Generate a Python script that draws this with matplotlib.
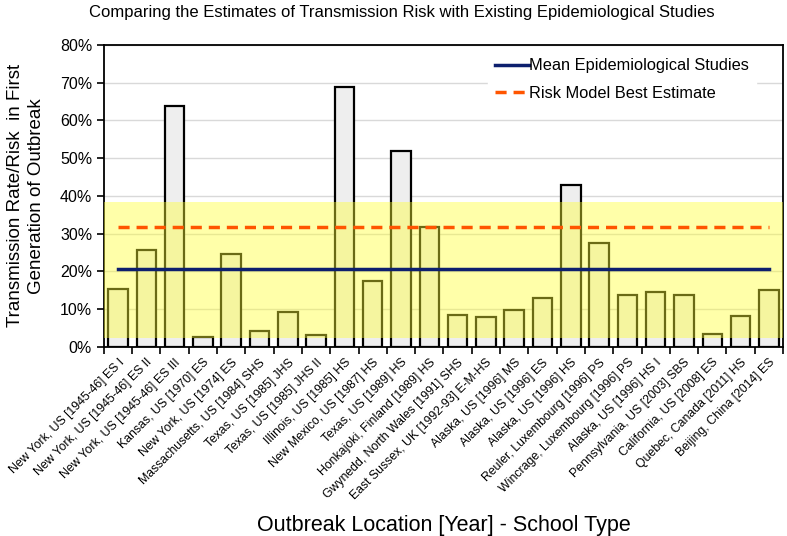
import numpy as np
import matplotlib
matplotlib.use("Agg")
import matplotlib.pyplot as plt
from matplotlib.ticker import PercentFormatter

plt.rcParams["font.family"] = ["Liberation Sans", "DejaVu Sans"]

# ---------------------------------------------------------------- data
labels = [
    "New York, US [1945-46] ES I",
    "New York, US [1945-46] ES II",
    "New York, US [1945-46] ES III",
    "Kansas, US [1970] ES",
    "New York, US [1974] ES",
    "Massachusetts, US [1984] SHS",
    "Texas, US [1985] JHS",
    "Texas, US [1985] JHS II",
    "Illinois, US [1985] HS",
    "New Mexico, US [1987] HS",
    "Texas, US [1989] HS",
    "Honkajoki, Finland [1989] HS",
    "Gwynedd, North Wales [1991] SHS",
    "East Sussex, UK [1992-93] E-M-HS",
    "Alaska, US [1996] MS",
    "Alaska, US [1996] ES",
    "Alaska, US [1996] HS",
    "Reuler, Luxembourg [1996] PS",
    "Wincrage, Luxembourg [1996] PS",
    "Alaska, US [1996] HS I",
    "Pennsylvania, US [2003] SBS",
    "California, US [2008] ES",
    "Quebec, Canada [2011] HS",
    "Beijing, China [2014] ES",
]
risk = [15.4, 25.7, 63.8, 2.5, 24.7, 4.2, 9.3, 3.2, 69.0, 17.5, 51.8, 31.7,
        8.5, 7.9, 9.8, 13.0, 42.9, 27.5, 13.7, 14.5, 13.8, 3.3, 8.1, 15.0]
mean_studies = 20.6        # mean of epidemiological studies (%)
model_best = 31.8          # risk model best estimate (%)
band_low, band_high = 2.3, 38.5   # risk model range (%)

# ---------------------------------------------------------------- figure
fig = plt.figure(figsize=(7.87, 5.36), dpi=100)
ax = fig.add_axes([0.132, 0.353, 0.863, 0.563])

x = np.arange(len(labels))
ax.bar(x, risk, width=0.69, color="#eeeeee", edgecolor="black", linewidth=1.6, zorder=2)
ax.axhspan(band_low, band_high, color="#ffff33", alpha=0.42, lw=0, zorder=3)

ax.plot([x[0], x[-1]], [mean_studies] * 2, color="#0d1f6e", lw=2.5, zorder=4,
        label="Mean Epidemiological Studies")
ax.plot([x[0], x[-1]], [model_best] * 2, color="#ff5500", lw=2.5, ls=(0, (3.2, 2)),
        zorder=4, label="Risk Model Best Estimate")

ax.set_xlim(-0.5, len(labels) - 0.5)
ax.set_ylim(0, 80)
ax.set_yticks(np.arange(0, 81, 10))
ax.yaxis.set_major_formatter(PercentFormatter(decimals=0))
ax.grid(axis="y", color="#d9d9d9", lw=1.0, zorder=0)
ax.set_axisbelow(True)

# category labels under bars, tick marks between categories
ax.set_xticks(x)
ax.set_xticklabels(labels, rotation=45, ha="right", rotation_mode="anchor", fontsize=8.8)
ax.tick_params(axis="x", length=0, pad=7)
ax.set_xticks(np.arange(-0.5, len(labels), 1.0), minor=True)
ax.tick_params(axis="x", which="minor", length=5, width=1.2, direction="out")
ax.tick_params(axis="y", labelsize=11.5, length=5, width=1.2, direction="out")

for s in ax.spines.values():
    s.set_linewidth(1.3)

ax.set_ylabel("Transmission Rate/Risk  in First\nGeneration of Outbreak",
              fontsize=13.5, labelpad=11, linespacing=1.25)
ax.set_xlabel("Outbreak Location [Year] - School Type", fontsize=15.5, labelpad=9)
fig.text(0.511, 0.976, "Comparing the Estimates of Transmission Risk with Existing Epidemiological Studies",
         ha="center", va="center", fontsize=12)

leg = ax.legend(loc="upper right", fontsize=11.8, frameon=True, handlelength=2.05,
                handletextpad=0.05, borderpad=0.4, labelspacing=0.75,
                bbox_to_anchor=(0.972, 1.005))
leg.get_frame().set_edgecolor("white")
leg.get_frame().set_facecolor("white")
leg.get_frame().set_alpha(1.0)

fig.savefig("out.png", dpi=100)
